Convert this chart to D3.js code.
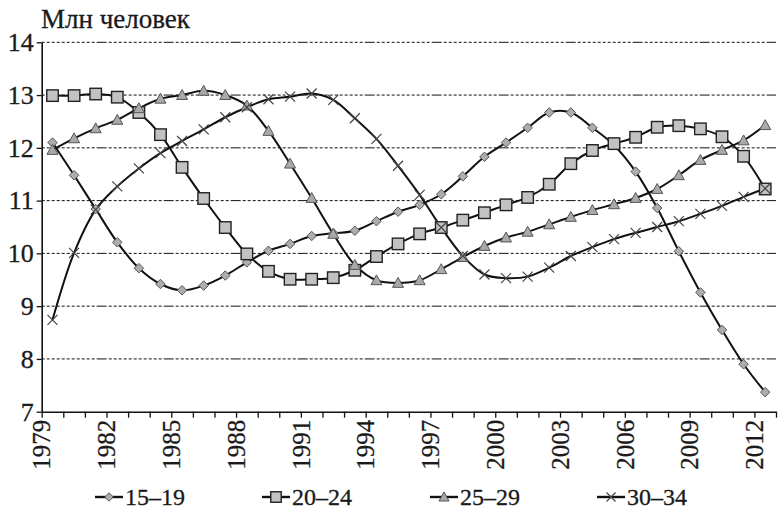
<!DOCTYPE html>
<html>
<head>
<meta charset="utf-8">
<script src="https://cdn.jsdelivr.net/npm/d3@7"></script>
<style>
  body { margin: 0; background: #fff; }
  svg text { font-family: "Liberation Serif", "DejaVu Serif", "Times New Roman", serif !important; fill: #1a1a1a; stroke: #1a1a1a; stroke-width: 0.3px; }
</style>
</head>
<body>
<div id="chart"></div>
<script>
// years on the category axis
const years = d3.range(1979, 2013);
const labelYears = [1979, 1982, 1985, 1988, 1991, 1994, 1997, 2000, 2003, 2006, 2009, 2012];
const yTicks = [7, 8, 9, 10, 11, 12, 13, 14];

// age groups, mln people
const age15_19 = [12.10, 11.48, 10.84, 10.21, 9.72, 9.42, 9.30, 9.39, 9.58, 9.83,
                  10.05, 10.18, 10.33, 10.38, 10.43, 10.61, 10.79, 10.92, 11.12, 11.46,
                  11.83, 12.10, 12.38, 12.67, 12.67, 12.38, 12.05, 11.55, 10.86, 10.04,
                  9.26, 8.55, 7.90, 7.37];
const age20_24 = [12.99, 12.99, 13.02, 12.96, 12.67, 12.25, 11.63, 11.04, 10.49, 9.99,
                  9.66, 9.51, 9.51, 9.54, 9.68, 9.94, 10.18, 10.37, 10.49, 10.63,
                  10.77, 10.92, 11.06, 11.31, 11.70, 11.95, 12.08, 12.20, 12.39, 12.42,
                  12.36, 12.21, 11.84, 11.22];
const age25_29 = [11.96, 12.18, 12.37, 12.53, 12.75, 12.93, 13.00, 13.08, 13.00, 12.80,
                  12.32, 11.70, 11.05, 10.37, 9.78, 9.49, 9.44, 9.49, 9.70, 9.93,
                  10.14, 10.30, 10.41, 10.55, 10.69, 10.82, 10.93, 11.05, 11.22, 11.48,
                  11.77, 11.96, 12.14, 12.43];
const age30_34 = [8.74, 10.01, 10.83, 11.27, 11.61, 11.90, 12.13, 12.35, 12.58, 12.77,
                  12.92, 12.97, 13.03, 12.91, 12.56, 12.17, 11.66, 11.11, 10.49, 9.95,
                  9.60, 9.53, 9.56, 9.73, 9.95, 10.12, 10.27, 10.39, 10.50, 10.61,
                  10.75, 10.90, 11.07, 11.23];

const seriesNames = ["15\u201319", "20\u201324", "25\u201329", "30\u201334"];
const seriesValues = [age15_19, age20_24, age25_29, age30_34];
const seriesMarkers = ["diamond", "square", "triangle", "cross"];

const width = 778, height = 511;
const margin = { top: 42.3, right: 2, bottom: 99.3, left: 41.7 };

const svg = d3.select("#chart")
    .append("svg")
        .attr("width", width)
        .attr("height", height);

// category edges: year y covers [y, y+1]
const xScale = d3.scaleLinear()
    .domain([1979, 2013])
    .range([margin.left, width - margin.right]);

const yScale = d3.scaleLinear()
    .domain([7, 14])
    .range([height - margin.bottom, margin.top]);

const xMid = (i) => xScale(years[i] + 0.5);

// title
svg.append("text")
    .attr("x", 41)
    .attr("y", 28)
    .style("font-size", "27px")
    .text("Млн человек");

// dash-dot grid
const dashes = d3.range(11).map(() => "3,2").join(",") + ",10,2";
svg.append("g")
    .selectAll("line")
    .data(yTicks.filter(v => v > 7))
    .enter()
    .append("line")
        .attr("x1", margin.left)
        .attr("x2", width - margin.right)
        .attr("y1", d => yScale(d))
        .attr("y2", d => yScale(d))
        .attr("stroke", "#111")
        .attr("stroke-width", 1)
        .attr("stroke-dasharray", dashes);

// y axis
const yAxis = svg.append("g")
    .attr("transform", `translate(${margin.left}, 0)`)
    .call(d3.axisLeft(yScale)
        .tickValues(yTicks)
        .tickFormat(d3.format("d"))
        .tickSize(5)
        .tickSizeOuter(0)
        .tickPadding(3));
yAxis.select(".domain").attr("stroke", "#111").attr("stroke-width", 1.6);
yAxis.selectAll(".tick line").attr("stroke", "#111").attr("stroke-width", 1.3);
yAxis.selectAll("text").style("font-size", "26px");

// x axis
const xAxis = svg.append("g")
    .attr("transform", `translate(0, ${height - margin.bottom})`)
    .call(d3.axisBottom(xScale)
        .tickValues(d3.range(1979, 2014))
        .tickSize(6)
        .tickSizeOuter(0)
        .tickFormat(d => labelYears.includes(d) ? String(d) : ""));
xAxis.select(".domain").attr("stroke", "#111").attr("stroke-width", 1.6);
xAxis.selectAll(".tick line").attr("stroke", "#111").attr("stroke-width", 1.3);
xAxis.selectAll("text")
    .style("font-size", "25px")
    .attr("text-anchor", "end")
    .attr("transform", "rotate(-90)")
    .attr("x", -8)
    .attr("y", 0)
    .attr("dy", "0.33em");

// marker drawing
function drawMarker(g, type, size) {
    const s = size * 0.5;
    if (type === "diamond") {
        g.append("path")
            .attr("d", `M0,${-s}L${s},0L0,${s}L${-s},0Z`)
            .attr("fill", "#adadad")
            .attr("stroke", "#555")
            .attr("stroke-width", 1);
    } else if (type === "square") {
        g.append("rect")
            .attr("x", -s).attr("y", -s)
            .attr("width", size).attr("height", size)
            .attr("fill", "#c2c2c2")
            .attr("stroke", "#222")
            .attr("stroke-width", 1.4);
    } else if (type === "triangle") {
        g.append("path")
            .attr("d", `M0,${-s}L${s},${s * 0.8}L${-s},${s * 0.8}Z`)
            .attr("fill", "#a9a9a9")
            .attr("stroke", "#555")
            .attr("stroke-width", 1);
    } else {
        g.append("path")
            .attr("d", `M${-s},${-s}L${s},${s}M${-s},${s}L${s},${-s}`)
            .attr("stroke", "#444")
            .attr("stroke-width", 1.2)
            .attr("fill", "none");
    }
}

const markerSize = { diamond: 9.5, square: 11.5, triangle: 11, cross: 10 };

const line = d3.line()
    .x((d, i) => xMid(i))
    .y(d => yScale(d))
    .curve(d3.curveCatmullRom.alpha(0.5));

// lines first, then markers on top
seriesValues.forEach((vals) => {
    svg.append("path")
        .datum(vals)
        .attr("d", line)
        .attr("fill", "none")
        .attr("stroke", "#111")
        .attr("stroke-width", 2);
});

seriesValues.forEach((vals, si) => {
    const type = seriesMarkers[si];
    svg.append("g")
        .selectAll("g")
        .data(vals)
        .enter()
        .append("g")
            .attr("transform", (d, i) => `translate(${xMid(i)}, ${yScale(d)})`)
            .each(function () { drawMarker(d3.select(this), type, markerSize[type]); });
});

// legend
const legendX = [95, 262, 430, 597];
const legend = svg.append("g");
seriesNames.forEach((name, i) => {
    const g = legend.append("g").attr("transform", `translate(${legendX[i]}, 497)`);
    g.append("line")
        .attr("x1", 0).attr("x2", 28)
        .attr("stroke", "#111")
        .attr("stroke-width", 2.4);
    const m = g.append("g").attr("transform", "translate(14, 0)");
    drawMarker(m, seriesMarkers[i], markerSize[seriesMarkers[i]] - 1);
    g.append("text")
        .attr("x", 30)
        .attr("y", 0)
        .attr("dy", "0.35em")
        .style("font-size", "24px")
        .text(name);
});
</script>
</body>
</html>
